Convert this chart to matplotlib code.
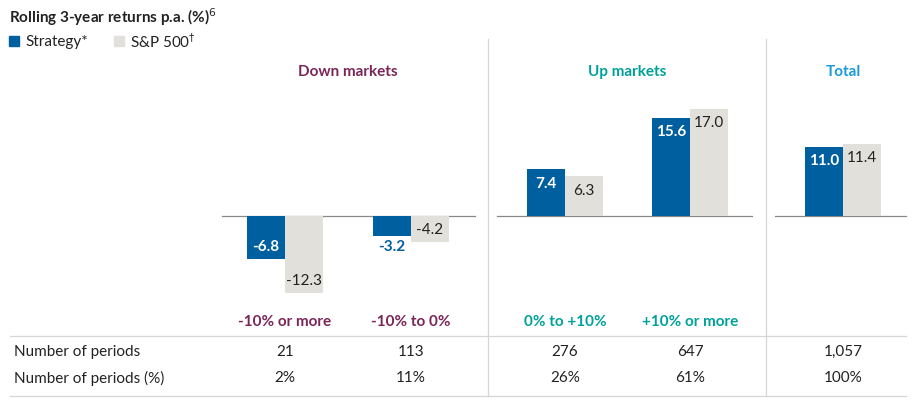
import matplotlib
matplotlib.use('Agg')
import matplotlib.pyplot as plt

categories = ["-10% or more", "-10% to 0%", "0% to +10%", "+10% or more", ""]
strategy = [-6.8, -3.2, 7.4, 15.6, 11.0]
sp500 = [-12.3, -4.2, 6.3, 17.0, 11.4]
periods = ["21", "113", "276", "647", "1,057"]
periods_pct = ["2%", "11%", "26%", "61%", "100%"]
panels = ["Down markets", "Up markets", "Total"]

W, H = 916, 410
BASE = 217.0
PXU = 6.3  # pixels per percentage point
centers = [285, 411, 565, 690, 843]
cat_colors = ["#7b2659", "#7b2659", "#00a19a", "#00a19a", None]
panel_x = [348, 627, 843]
panel_colors = ["#7b2659", "#00a19a", "#1a9ad6"]
BLUE = "#005f9e"
GREY = "#e2e0da"
DARK = "#222222"
LINE = "#d6d6d6"

fig = plt.figure(figsize=(W / 100, H / 100), dpi=100)
ax = fig.add_axes([0, 0, 1, 1])
ax.set_xlim(0, W)
ax.set_ylim(-(H - BASE) / PXU, BASE / PXU)
ax.axis('off')
plt.rcParams['font.family'] = 'Lato'


def fy(py):
    return 1 - py / H


def fx(px):
    return px / W


bw = 38
for i, c in enumerate(centers):
    s, p = strategy[i], sp500[i]
    ax.bar(c - bw / 2, s, bw, color=BLUE, zorder=3)
    ax.bar(c + bw / 2, p, bw, color=GREY, zorder=3)
    # value labels
    if s >= 0:
        ax.text(c - bw / 2, s - 1.0, f"{s:.1f}", color="white", fontweight="bold",
                ha="center", va="top", fontsize=11, zorder=4)
    elif s < -4:
        ax.text(c - bw / 2, s + 1.0, f"{s:.1f}", color="white", fontweight="bold",
                ha="center", va="bottom", fontsize=11, zorder=4)
    else:
        ax.text(c - bw / 2, s - 0.4, f"{s:.1f}", color=BLUE, fontweight="bold",
                ha="center", va="top", fontsize=11, zorder=4)
    if p >= 0:
        ax.text(c + bw / 2, p - 1.0, f"{p:.1f}", color=DARK,
                ha="center", va="top", fontsize=11, zorder=4)
    else:
        ax.text(c + bw / 2, p + 1.0, f"{p:.1f}", color=DARK,
                ha="center", va="bottom", fontsize=11, zorder=4)
    if categories[i]:
        fig.text(fx(c), fy(322), categories[i], color=cat_colors[i], fontweight="bold",
                 ha="center", va="center", fontsize=11)
    fig.text(fx(c), fy(352), periods[i], color=DARK, ha="center", va="center", fontsize=11)
    fig.text(fx(c), fy(378), periods_pct[i], color=DARK, ha="center", va="center", fontsize=11)

# baselines per panel
for x0, x1 in [(222, 475), (497, 752), (775, 906)]:
    ax.plot([x0, x1], [0, 0], color="#888888", lw=0.9, zorder=2)

for k, name in enumerate(panels):
    fig.text(fx(panel_x[k]), fy(72), name, color=panel_colors[k], fontweight="bold",
             ha="center", va="center", fontsize=11)

# dividers and table lines
for xd in [488, 766]:
    fig.add_artist(plt.Line2D([fx(xd)] * 2, [fy(40), fy(397)], color=LINE, lw=0.9))
for yl in [337, 397]:
    fig.add_artist(plt.Line2D([fx(10), fx(906)], [fy(yl)] * 2, color=LINE, lw=0.9))

fig.text(fx(14), fy(352), "Number of periods", color=DARK, ha="left", va="center", fontsize=11)
fig.text(fx(14), fy(378), "Number of periods (%)", color=DARK, ha="left", va="center", fontsize=11)

# title and legend
fig.text(fx(9), fy(17), "Rolling 3-year returns p.a. (%)$^6$", color=DARK, fontweight="bold",
         ha="left", va="center", fontsize=11)
fig.add_artist(plt.Rectangle((fx(9), fy(47)), 10 / W, 10 / H, color=BLUE))
fig.text(fx(25), fy(42), "Strategy*", color=DARK, ha="left", va="center", fontsize=11)
fig.add_artist(plt.Rectangle((fx(114), fy(47)), 10 / W, 10 / H, color=GREY))
fig.text(fx(130), fy(42), "S&P 500$^{\u2020}$", color=DARK, ha="left", va="center", fontsize=11)

fig.savefig("out.png", dpi=100)
